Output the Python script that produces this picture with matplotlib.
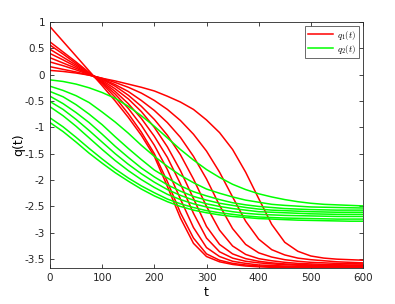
import numpy as np
import matplotlib
matplotlib.use("Agg")
import matplotlib.pyplot as plt

plt.rcParams['axes.unicode_minus'] = False
plt.rcParams['mathtext.fontset'] = 'cm'

# time grid (values every 25 time units)
t = [0, 25, 50, 75, 100, 125, 150, 175, 200, 225, 250, 275, 300,
     325, 350, 375, 400, 425, 450, 475, 500, 525, 550, 575, 600]

# q1(t) curves (red)
q1_curves = [
    [0.91, 0.63, 0.35, 0.07, -0.21, -0.50, -0.81, -1.15, -1.55, -2.12, -2.72, -3.20, -3.45,
     -3.55, -3.60, -3.63, -3.645, -3.655, -3.66, -3.66, -3.66, -3.66, -3.66, -3.66, -3.66],
    [0.62, 0.43, 0.24, 0.04, -0.17, -0.43, -0.74, -1.09, -1.50, -2.03, -2.62, -3.10, -3.40,
     -3.52, -3.58, -3.61, -3.63, -3.64, -3.645, -3.65, -3.65, -3.65, -3.65, -3.65, -3.65],
    [0.56, 0.39, 0.21, 0.03, -0.15, -0.37, -0.64, -0.96, -1.34, -1.80, -2.36, -2.90, -3.28,
     -3.45, -3.54, -3.58, -3.61, -3.62, -3.63, -3.635, -3.64, -3.64, -3.64, -3.64, -3.64],
    [0.48, 0.33, 0.18, 0.02, -0.13, -0.32, -0.55, -0.83, -1.17, -1.57, -2.07, -2.63, -3.10,
     -3.36, -3.48, -3.54, -3.57, -3.59, -3.605, -3.615, -3.62, -3.625, -3.63, -3.63, -3.63],
    [0.40, 0.28, 0.15, 0.01, -0.11, -0.27, -0.46, -0.70, -1.00, -1.37, -1.82, -2.35, -2.88,
     -3.22, -3.40, -3.49, -3.54, -3.57, -3.59, -3.60, -3.61, -3.615, -3.62, -3.62, -3.62],
    [0.32, 0.22, 0.12, 0.01, -0.09, -0.22, -0.39, -0.60, -0.85, -1.15, -1.52, -1.98, -2.50,
     -2.95, -3.25, -3.41, -3.49, -3.53, -3.56, -3.58, -3.59, -3.60, -3.605, -3.61, -3.61],
    [0.24, 0.17, 0.09, 0.00, -0.08, -0.19, -0.32, -0.49, -0.68, -0.91, -1.19, -1.55, -1.98,
     -2.48, -2.92, -3.22, -3.38, -3.46, -3.51, -3.54, -3.56, -3.57, -3.58, -3.585, -3.59],
    [0.15, 0.10, 0.05, -0.01, -0.07, -0.15, -0.24, -0.35, -0.49, -0.66, -0.87, -1.13, -1.45,
     -1.85, -2.32, -2.78, -3.12, -3.32, -3.42, -3.48, -3.51, -3.53, -3.55, -3.56, -3.57],
    [0.08, 0.06, 0.03, -0.01, -0.07, -0.12, -0.18, -0.24, -0.31, -0.41, -0.52, -0.66, -0.86,
     -1.10, -1.42, -1.85, -2.35, -2.84, -3.18, -3.35, -3.44, -3.48, -3.50, -3.51, -3.52],
]

# q2(t) curves (green)
q2_curves = [
    [-0.10, -0.13, -0.18, -0.25, -0.34, -0.45, -0.60, -0.78, -0.98, -1.20, -1.42, -1.62, -1.80,
     -1.95, -2.08, -2.18, -2.26, -2.32, -2.37, -2.41, -2.44, -2.46, -2.47, -2.48, -2.49],
    [-0.22, -0.30, -0.40, -0.53, -0.71, -0.90, -1.11, -1.34, -1.55, -1.74, -1.91, -2.05, -2.17,
     -2.25, -2.32, -2.38, -2.42, -2.46, -2.48, -2.495, -2.51, -2.515, -2.52, -2.525, -2.53],
    [-0.32, -0.42, -0.57, -0.75, -0.95, -1.18, -1.40, -1.61, -1.81, -1.96, -2.11, -2.22, -2.30,
     -2.37, -2.43, -2.47, -2.50, -2.52, -2.54, -2.55, -2.56, -2.565, -2.57, -2.57, -2.57],
    [-0.41, -0.55, -0.72, -0.91, -1.13, -1.36, -1.57, -1.77, -1.94, -2.09, -2.21, -2.31, -2.38,
     -2.44, -2.48, -2.52, -2.55, -2.57, -2.58, -2.59, -2.60, -2.605, -2.61, -2.61, -2.61],
    [-0.51, -0.66, -0.85, -1.06, -1.28, -1.50, -1.70, -1.88, -2.04, -2.18, -2.29, -2.38, -2.45,
     -2.50, -2.54, -2.57, -2.60, -2.61, -2.62, -2.63, -2.64, -2.645, -2.65, -2.65, -2.65],
    [-0.61, -0.78, -0.98, -1.20, -1.42, -1.63, -1.82, -1.99, -2.14, -2.27, -2.37, -2.45, -2.51,
     -2.56, -2.60, -2.63, -2.65, -2.66, -2.67, -2.675, -2.68, -2.685, -2.69, -2.69, -2.69],
    [-0.82, -0.99, -1.19, -1.40, -1.60, -1.79, -1.96, -2.11, -2.24, -2.36, -2.45, -2.52, -2.58,
     -2.62, -2.65, -2.68, -2.70, -2.71, -2.72, -2.725, -2.73, -2.735, -2.74, -2.74, -2.74],
    [-0.91, -1.08, -1.28, -1.49, -1.68, -1.86, -2.02, -2.17, -2.30, -2.41, -2.50, -2.57, -2.62,
     -2.66, -2.69, -2.71, -2.73, -2.74, -2.75, -2.76, -2.765, -2.77, -2.775, -2.78, -2.78],
]

xticks = [0, 100, 200, 300, 400, 500, 600]
yticks = [1, 0.5, 0, -0.5, -1, -1.5, -2, -2.5, -3, -3.5]
ytick_labels = ['1', '0.5', '0', '-0.5', '-1', '-1.5', '-2', '-2.5', '-3', '-3.5']

fig = plt.figure(figsize=(3.95, 3.04), dpi=100)
ax = fig.add_axes([0.1266, 0.118, 0.7924, 0.810])

for i, c in enumerate(q1_curves):
    ax.plot(t, c, color='#ff0000', lw=1.1, label=r'$q_1(t)$' if i == 0 else None)
for i, c in enumerate(q2_curves):
    ax.plot(t, c, color='#00ff00', lw=1.1, label=r'$q_2(t)$' if i == 0 else None)

ax.set_xlim(0, 600)
ax.set_ylim(-3.67, 1)
ax.set_xticks(xticks)
ax.set_yticks(yticks)
ax.set_yticklabels(ytick_labels)
ax.tick_params(direction='in', top=True, right=True, labelsize=7.5,
               length=3, width=0.6, colors='#262626')
for s in ax.spines.values():
    s.set_linewidth(0.6)
    s.set_color('#262626')

ax.set_xlabel('t', fontsize=9, labelpad=2)
ax.set_ylabel('q(t)', fontsize=9, labelpad=0)

leg = ax.legend(loc='upper right', fontsize=6.5, frameon=True, fancybox=False,
                handlelength=2.8, borderpad=0.3, labelspacing=0.1,
                handletextpad=0.4, borderaxespad=0.45)
leg.get_frame().set_edgecolor('#262626')
leg.get_frame().set_linewidth(0.6)

fig.savefig('out.png', dpi=100)
